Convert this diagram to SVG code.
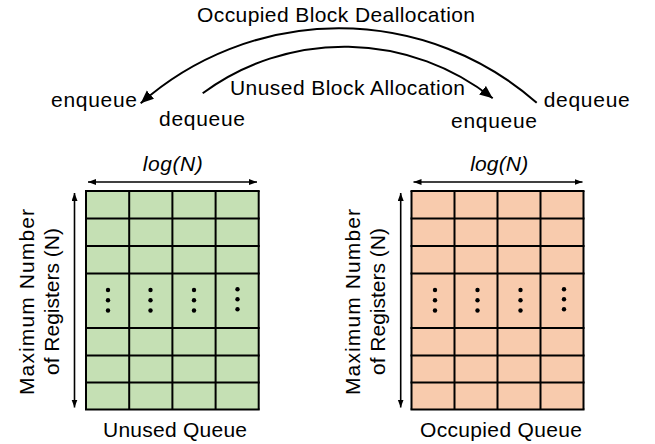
<svg xmlns="http://www.w3.org/2000/svg" width="655" height="444" viewBox="0 0 655 444">
<style>
  text { font-family: "Liberation Sans", Arial, sans-serif; font-size: 21px; fill: #000; text-anchor: middle; }
  .it { font-style: italic; }
  .grid { stroke: #000; stroke-width: 2; }
  .green { fill: #c5e0b4; }
  .orange { fill: #f8cbad; }
  .arc { fill: none; stroke: #000; stroke-width: 2; }
  .dim { fill: none; stroke: #000; stroke-width: 1.6; }
  .dot { fill: #000; }
</style>
<defs>
  <marker id="bigArrow" markerUnits="userSpaceOnUse" markerWidth="14" markerHeight="12" refX="13" refY="5.5" orient="auto">
    <path d="M0,0 L13,5.5 L0,11 z" fill="#000"/>
  </marker>
  <marker id="dimArrow" markerUnits="userSpaceOnUse" markerWidth="9" markerHeight="7" refX="8" refY="3" orient="auto-start-reverse">
    <path d="M0,0 L8,3 L0,6 z" fill="#000"/>
  </marker>
</defs>

<g id="connectors">
  <path class="arc" d="M536.7,102.7 A299.8,299.8 0 0 0 140.7,103.3" marker-end="url(#bigArrow)"/>
  <path class="arc" d="M202.7,93.3 A238.7,238.7 0 0 1 492.7,98.3" marker-end="url(#bigArrow)"/>
</g>

<g id="arc-labels">
  <text x="336" y="22" textLength="278">Occupied Block Deallocation</text>
  <text x="347.5" y="95" textLength="235">Unused Block Allocation</text>
  <text x="94" y="106.7" textLength="86">enqueue</text>
  <text x="202" y="126" textLength="86">dequeue</text>
  <text x="586.7" y="106.7" textLength="86">dequeue</text>
  <text x="494" y="128.3" textLength="86">enqueue</text>
</g>

<g id="unused-queue">
  <rect class="green" x="86" y="191" width="172.7" height="218.5"/>
  <g class="grid">
    <line x1="86" y1="191" x2="86" y2="409.5"/>
    <line x1="129.2" y1="191" x2="129.2" y2="409.5"/>
    <line x1="172.4" y1="191" x2="172.4" y2="409.5"/>
    <line x1="215.6" y1="191" x2="215.6" y2="409.5"/>
    <line x1="258.7" y1="191" x2="258.7" y2="409.5"/>
    <line x1="85" y1="191" x2="259.7" y2="191"/>
    <line x1="85" y1="218.5" x2="259.7" y2="218.5"/>
    <line x1="85" y1="246" x2="259.7" y2="246"/>
    <line x1="85" y1="273.5" x2="259.7" y2="273.5"/>
    <line x1="85" y1="328" x2="259.7" y2="328"/>
    <line x1="85" y1="355.5" x2="259.7" y2="355.5"/>
    <line x1="85" y1="382.5" x2="259.7" y2="382.5"/>
    <line x1="85" y1="409.5" x2="259.7" y2="409.5"/>
  </g>
  <g class="dot">
    <circle cx="108" cy="290" r="2.2"/><circle cx="108" cy="300.3" r="2.2"/><circle cx="108" cy="310.5" r="2.2"/>
    <circle cx="150.5" cy="290" r="2.2"/><circle cx="150.5" cy="300.3" r="2.2"/><circle cx="150.5" cy="310.5" r="2.2"/>
    <circle cx="194" cy="290" r="2.2"/><circle cx="194" cy="300.3" r="2.2"/><circle cx="194" cy="310.5" r="2.2"/>
    <circle cx="237.5" cy="289.3" r="2.2"/><circle cx="237.5" cy="299.3" r="2.2"/><circle cx="237.5" cy="309.3" r="2.2"/>
  </g>
  <line class="dim" x1="88" y1="182" x2="257" y2="182" marker-start="url(#dimArrow)" marker-end="url(#dimArrow)"/>
  <line class="dim" x1="74.5" y1="193" x2="74.5" y2="407.5" marker-start="url(#dimArrow)" marker-end="url(#dimArrow)"/>
  <text class="it" x="172.7" y="170.5" textLength="60">log(N)</text>
  <text transform="translate(33.5,302) rotate(-90)" x="0" y="0" textLength="186">Maximum Number</text>
  <text transform="translate(58.5,301.5) rotate(-90)" x="0" y="0" textLength="147">of Registers (N)</text>
  <text x="175" y="436.7" textLength="144">Unused Queue</text>
</g>

<g id="occupied-queue">
  <rect class="orange" x="411.5" y="191" width="172" height="218.5"/>
  <g class="grid">
    <line x1="411.5" y1="191" x2="411.5" y2="409.5"/>
    <line x1="454.5" y1="191" x2="454.5" y2="409.5"/>
    <line x1="497.5" y1="191" x2="497.5" y2="409.5"/>
    <line x1="540.5" y1="191" x2="540.5" y2="409.5"/>
    <line x1="583.5" y1="191" x2="583.5" y2="409.5"/>
    <line x1="410.5" y1="191" x2="584.5" y2="191"/>
    <line x1="410.5" y1="218.5" x2="584.5" y2="218.5"/>
    <line x1="410.5" y1="246" x2="584.5" y2="246"/>
    <line x1="410.5" y1="273.5" x2="584.5" y2="273.5"/>
    <line x1="410.5" y1="328" x2="584.5" y2="328"/>
    <line x1="410.5" y1="355.5" x2="584.5" y2="355.5"/>
    <line x1="410.5" y1="382.5" x2="584.5" y2="382.5"/>
    <line x1="410.5" y1="409.5" x2="584.5" y2="409.5"/>
  </g>
  <g class="dot">
    <circle cx="435" cy="290" r="2.2"/><circle cx="435" cy="300.3" r="2.2"/><circle cx="435" cy="310.5" r="2.2"/>
    <circle cx="477.5" cy="290" r="2.2"/><circle cx="477.5" cy="300.3" r="2.2"/><circle cx="477.5" cy="310.5" r="2.2"/>
    <circle cx="520.5" cy="290" r="2.2"/><circle cx="520.5" cy="300.3" r="2.2"/><circle cx="520.5" cy="310.5" r="2.2"/>
    <circle cx="564" cy="289.3" r="2.2"/><circle cx="564" cy="299.3" r="2.2"/><circle cx="564" cy="309.3" r="2.2"/>
  </g>
  <line class="dim" x1="413.5" y1="182" x2="582.5" y2="182" marker-start="url(#dimArrow)" marker-end="url(#dimArrow)"/>
  <line class="dim" x1="400.7" y1="193" x2="400.7" y2="407.5" marker-start="url(#dimArrow)" marker-end="url(#dimArrow)"/>
  <text class="it" x="499.2" y="170.5" textLength="58">log(N)</text>
  <text transform="translate(359.5,302) rotate(-90)" x="0" y="0" textLength="186">Maximum Number</text>
  <text transform="translate(384.5,301.5) rotate(-90)" x="0" y="0" textLength="147">of Registers (N)</text>
  <text x="501" y="436.7" textLength="162">Occupied Queue</text>
</g>
</svg>
